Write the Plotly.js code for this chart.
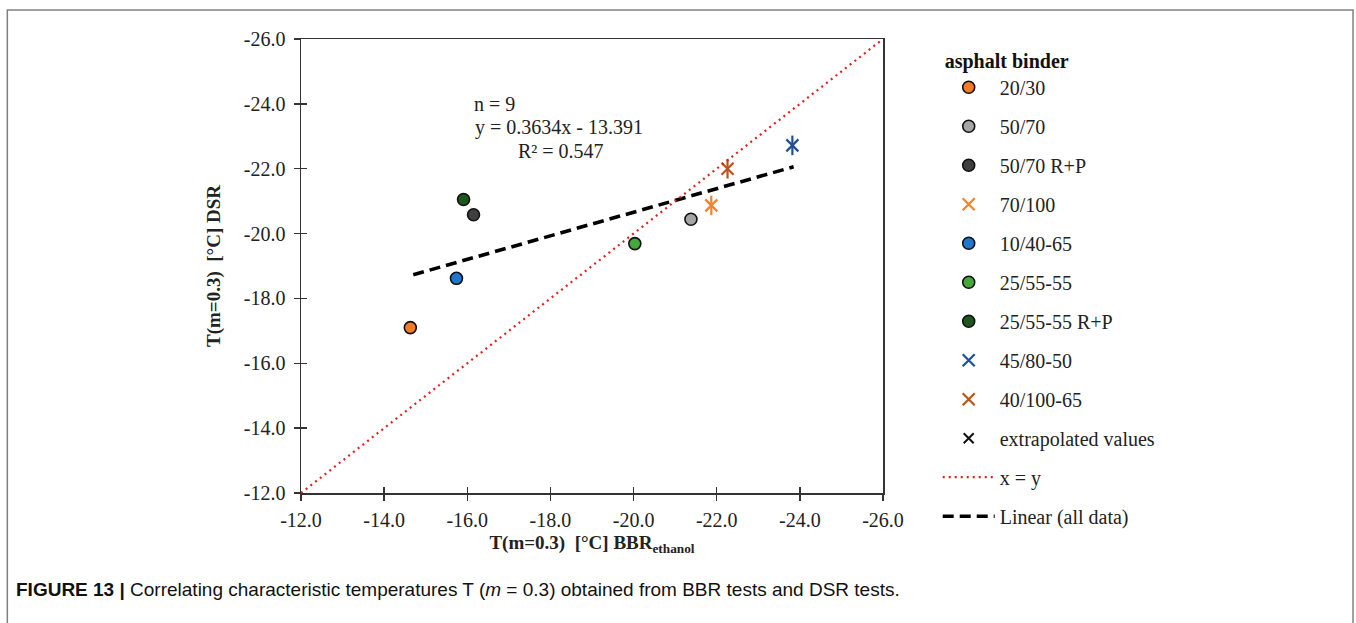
<!DOCTYPE html>
<html>
<head>
<meta charset="utf-8">
<script src="https://cdn.plot.ly/plotly-3.0.1.min.js"></script>
<style>html,body{margin:0;padding:0;background:#fff;}#chart{width:1356px;height:623px;}</style>
</head>
<body>
<div id="chart"></div>
<script>
// ---- data ----
const binders = ['20/30','50/70','50/70 R+P','70/100','10/40-65','25/55-55','25/55-55 R+P','45/80-50','40/100-65'];
const bbrT = [-14.63,-21.38,-16.15,-21.87,-15.74,-20.03,-15.91,-23.82,-22.26];   // T(m=0.3) BBR ethanol
const dsrT = [-17.10,-20.44,-20.58,-20.87,-18.62,-19.69,-21.05,-22.72,-22.00];   // T(m=0.3) DSR
const extrapolated = [false,false,false,true,false,false,false,true,true];
const binderColors = ['#F47C26','#A5A5A5','#3F3F3F','#F5822C','#2176CF','#45A83A','#1D561E','#1F4F98','#B9551C'];
const identityX = [-12,-26];
const identityY = [-12,-26];
const trendX = [-14.70,-23.85];
const trendY = [-18.73,-22.06];
const tickVals = [-12,-14,-16,-18,-20,-22,-24,-26];
const tickText = ['-12.0','-14.0','-16.0','-18.0','-20.0','-22.0','-24.0','-26.0'];
const eqLines = ['n = 9','y = 0.3634x - 13.391','R\u00b2 = 0.547'];

const serif = 'Liberation Serif, Times New Roman, serif';
const axisCol = '#333333';
const traces = [];
const overlays = [];
binders.forEach((b,i)=>{
  if(!extrapolated[i]){
    traces.push({x:[bbrT[i]],y:[dsrT[i]],type:'scatter',mode:'markers',name:b,legendgroup:'g'+i,
      marker:{symbol:'circle',size:12,color:binderColors[i],line:{color:'#111',width:1.6}},hoverinfo:'x+y+name'});
  } else {
    traces.push({x:[bbrT[i]],y:[dsrT[i]],type:'scatter',mode:'markers',name:b,legendgroup:'g'+i,
      marker:{symbol:'x-thin-open',size:12,color:binderColors[i],line:{color:binderColors[i],width:2.2}}});
    overlays.push({x:[bbrT[i]],y:[dsrT[i]],type:'scatter',mode:'markers',showlegend:false,legendgroup:'g'+i,
      marker:{symbol:'line-ns-open',size:14,color:binderColors[i],line:{color:binderColors[i],width:2.2}},hoverinfo:'skip'});
  }
});
traces.push({x:[null],y:[null],type:'scatter',mode:'markers',name:'extrapolated values',legendgroup:'g9',
  marker:{symbol:'x-thin-open',size:10,color:'#111',line:{color:'#111',width:2}}});
traces.push({x:identityX,y:identityY,xaxis:'x2',yaxis:'y2',type:'scatter',mode:'lines',name:'x = y',legendgroup:'g10',
  line:{color:'#E0201B',width:2.2,dash:'2px,4px'}});
traces.push({x:trendX,y:trendY,type:'scatter',mode:'lines',name:'Linear (all data)',legendgroup:'g11',
  line:{color:'#000',width:3.6,dash:'11px,6px'}});

const baseAxis = {
  range:[-12,-26], autorange:false, tickmode:'array', tickvals:tickVals, ticktext:tickText,
  showgrid:false, zeroline:false, showline:true, linecolor:axisCol, linewidth:1.5, mirror:true,
  ticks:'outside', ticklen:6, tickwidth:1.5, tickcolor:axisCol,
  tickfont:{family:serif,size:20,color:'#222'}
};
const overlayAxis = {
  range:[-12,-26], autorange:false, tickmode:'array', tickvals:tickVals,
  showgrid:false, zeroline:false, showline:false, showticklabels:false,
  ticks:'inside', ticklen:6, tickwidth:1.5, tickcolor:axisCol
};

const annotations = [
  {xref:'paper',yref:'paper',x:0.294,y:0.857,xanchor:'left',yanchor:'middle',showarrow:false,text:eqLines[0],font:{family:serif,size:20,color:'#222'}},
  {xref:'paper',yref:'paper',x:0.295,y:0.806,xanchor:'left',yanchor:'middle',showarrow:false,text:eqLines[1],font:{family:serif,size:20,color:'#222'}},
  {xref:'paper',yref:'paper',x:0.369,y:0.753,xanchor:'left',yanchor:'middle',showarrow:false,text:eqLines[2],font:{family:serif,size:20,color:'#222'}},
  {xref:'paper',yref:'paper',x:-0.4931,y:-0.213,xanchor:'left',yanchor:'middle',showarrow:false,
   text:'<b>FIGURE 13 |</b> Correlating characteristic temperatures T (<i>m</i> = 0.3) obtained from BBR tests and DSR tests.',
   font:{family:'Liberation Sans, Arial, sans-serif',size:19,color:'#111'}}
];

const layout = {
  width:1356, height:623,
  margin:{l:301,r:473,t:39,b:130,pad:0},
  paper_bgcolor:'#fff', plot_bgcolor:'#fff',
  showlegend:true,
  xaxis:Object.assign({}, baseAxis, {
    ticklabelstandoff:2,
    title:{text:'<b>T(m=0.3)\u00a0\u00a0[°C] BBR<sub>ethanol</sub></b>',font:{family:serif,size:19,color:'#222'},standoff:6}
  }),
  yaxis:Object.assign({}, baseAxis, {
    ticklabelstandoff:4,
    title:{text:'<b>T(m=0.3)\u00a0\u00a0[°C] DSR</b>',font:{family:serif,size:19,color:'#222'},standoff:18}
  }),
  xaxis2:Object.assign({}, overlayAxis, {overlaying:'x',anchor:'y2',side:'bottom'}),
  yaxis2:Object.assign({}, overlayAxis, {overlaying:'y',anchor:'x2',side:'left'}),
  legend:{
    x:1.094, y:0.994, xanchor:'left', yanchor:'top', maxheight:600,
    title:{text:'<b>\u00a0asphalt binder</b>',font:{family:serif,size:20,color:'#111'}},
    font:{family:serif,size:20,color:'#222'},
    traceorder:'grouped', tracegroupgap:10, itemwidth:52,
    bgcolor:'rgba(0,0,0,0)', borderwidth:0
  },
  annotations:annotations,
  shapes:[{type:'rect',xref:'paper',yref:'paper',x0:-0.5046,x1:1.8076,y0:-0.31,y1:1.0639,
    line:{color:'#808080',width:1.5},fillcolor:'rgba(0,0,0,0)',layer:'below'}]
};

Plotly.newPlot('chart', traces.concat(overlays), layout, {displayModeBar:false, staticPlot:true});
</script>
</body>
</html>
